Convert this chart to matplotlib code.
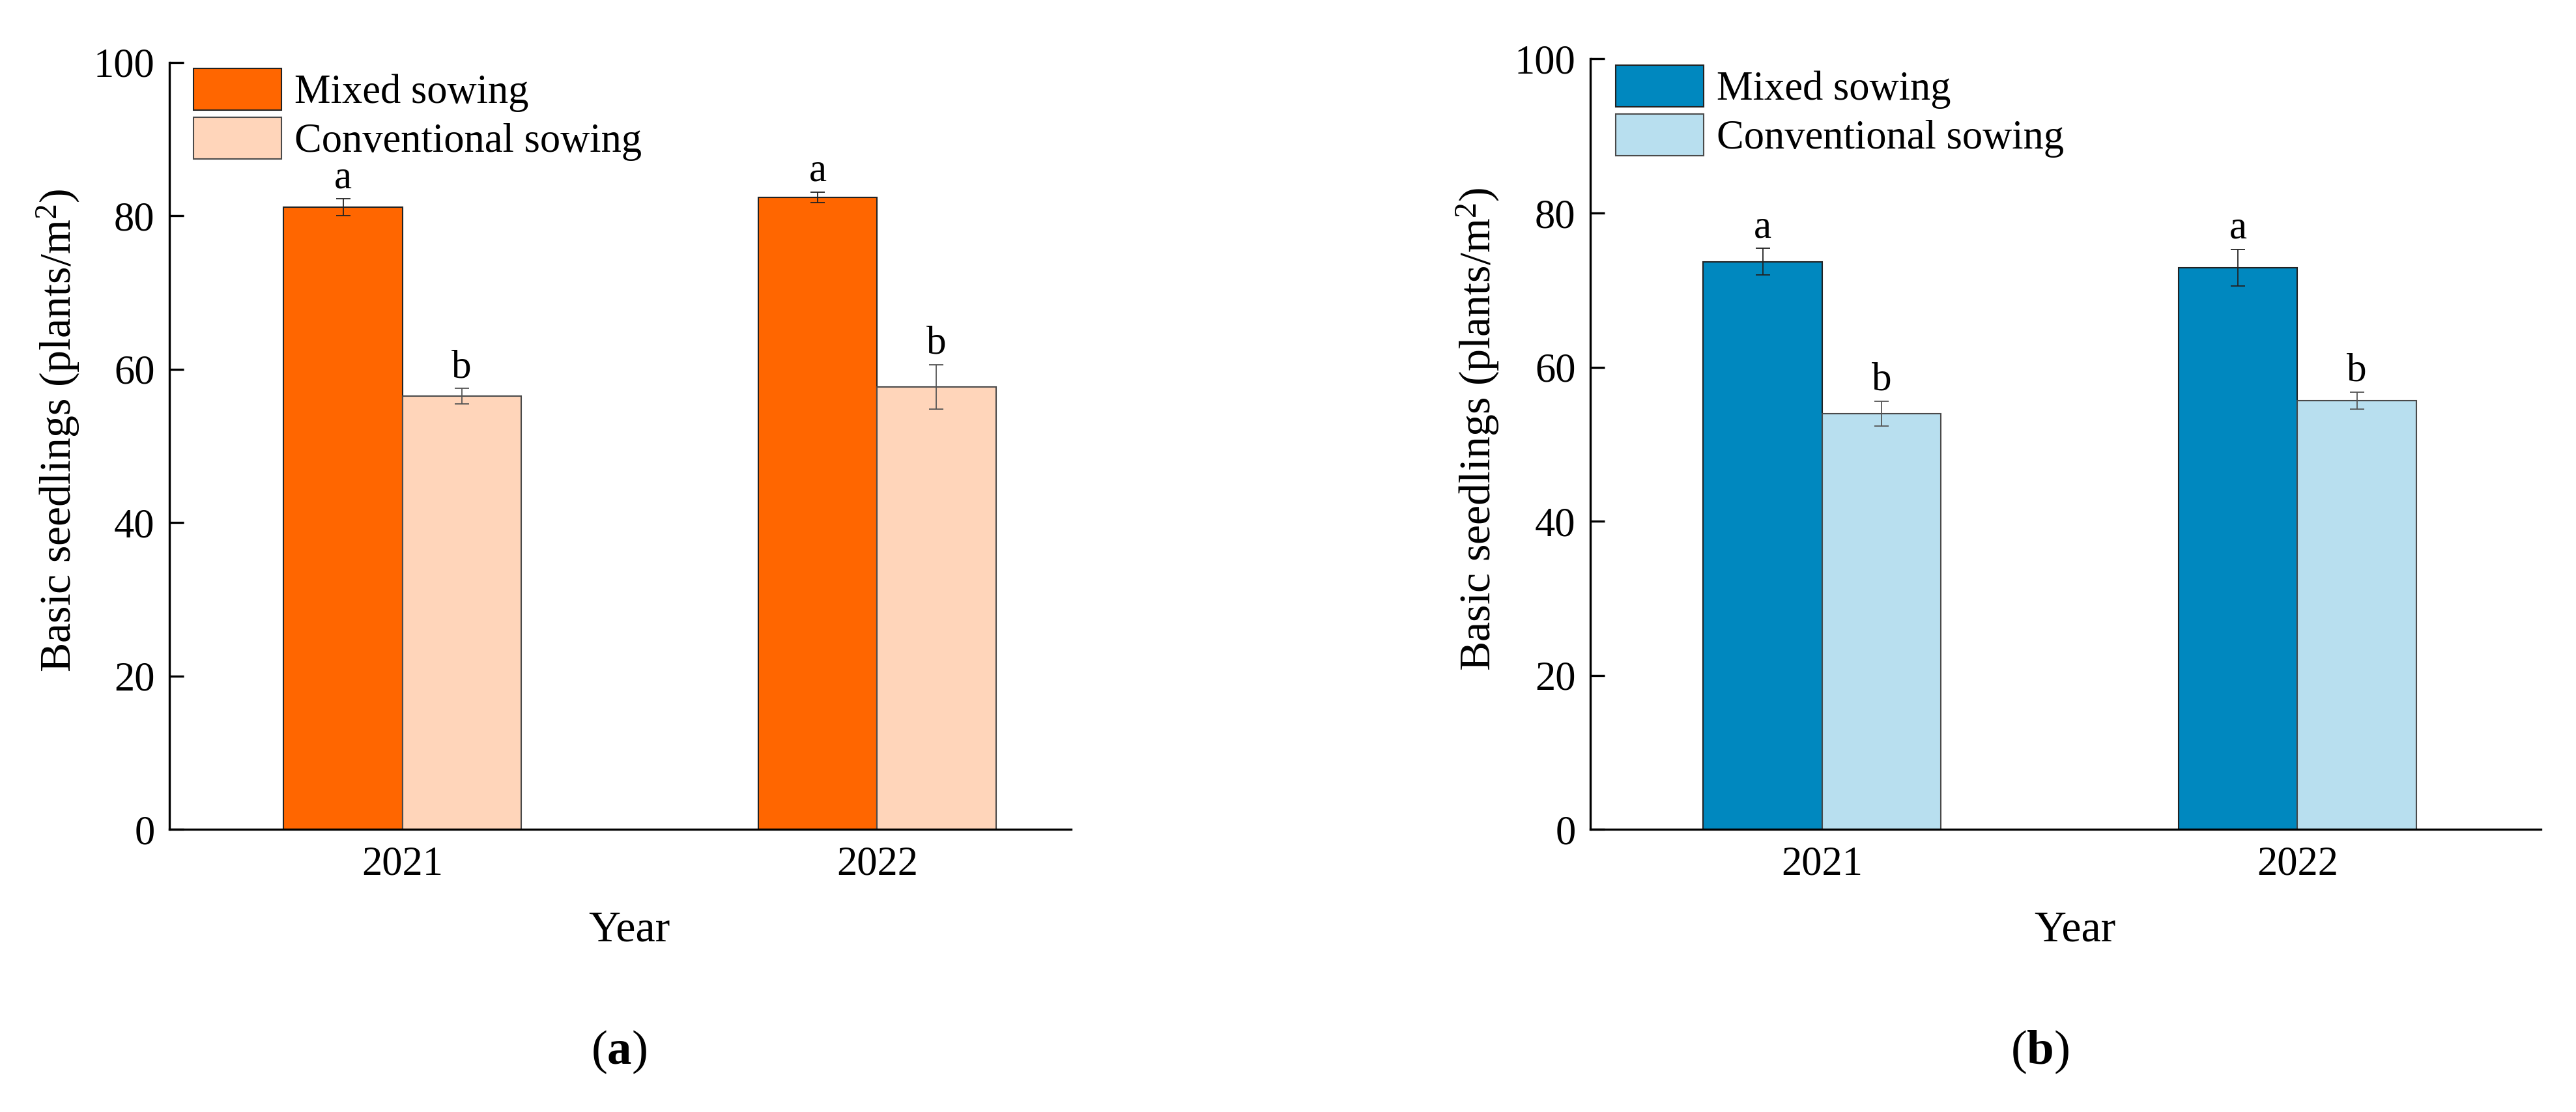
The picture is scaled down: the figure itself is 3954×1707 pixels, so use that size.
#!/usr/bin/env python3
# -*- coding: utf-8 -*-
"""
plantulas basicas - semeadura mista x convencional, 2021 e 2022
"""

import numpy as np
import matplotlib
matplotlib.use('Agg')
import matplotlib.pyplot as plt

# dados
anos = ['2021', '2022']
series = ['Mixed sowing', 'Conventional sowing']

# painel (a)
mista_a = [81.1, 82.4]
mista_a_err = [1.1, 0.7]
conv_a = [56.5, 57.7]
conv_a_err = [1.0, 2.9]
letras_mista_a = ['a', 'a']
letras_conv_a = ['b', 'b']

# painel (b)
mista_b = [73.7, 72.9]
mista_b_err = [1.7, 2.4]
conv_b = [54.0, 55.7]
conv_b_err = [1.6, 1.1]
letras_mista_b = ['a', 'a']
letras_conv_b = ['b', 'b']

y_ticks = [0, 20, 40, 60, 80, 100]

plt.rcParams['font.family'] = ['Liberation Serif', 'DejaVu Serif']
plt.rcParams['mathtext.fontset'] = 'custom'
plt.rcParams['mathtext.rm'] = 'Liberation Serif'
plt.rcParams['mathtext.it'] = 'Liberation Serif:italic'
plt.rcParams['mathtext.bf'] = 'Liberation Serif:bold'


def grafico_barras(ax, v1, e1, v2, e2, l1, l2, cores, xlim, ylabel_x):
    x = np.arange(len(anos))
    w = 0.25
    b1 = ax.bar(x - w / 2, v1, w, color=cores[0], edgecolor='#222222', linewidth=1.5,
                label=series[0], zorder=2)
    b2 = ax.bar(x + w / 2, v2, w, color=cores[1], edgecolor='#4a4a4a', linewidth=1.5,
                label=series[1], zorder=2)
    ax.errorbar(x - w / 2, v1, yerr=e1, fmt='none', ecolor='#222222', elinewidth=1.3,
                capsize=8, capthick=1.3, zorder=3)
    ax.errorbar(x + w / 2, v2, yerr=e2, fmt='none', ecolor='#555555', elinewidth=1.3,
                capsize=8, capthick=1.3, zorder=3)
    # letras de significancia
    for i in range(len(anos)):
        ax.annotate(l1[i], (x[i] - w / 2, v1[i] + e1[i]), xytext=(0, 3),
                    textcoords='offset points', ha='center', va='bottom', fontsize=44)
        ax.annotate(l2[i], (x[i] + w / 2, v2[i] + e2[i]), xytext=(0, 3),
                    textcoords='offset points', ha='center', va='bottom', fontsize=44)

    ax.set_xlim(xlim)
    ax.set_ylim(0, 100)
    ax.set_yticks(y_ticks)
    ax.set_xticks(x)
    ax.set_xticklabels(anos)
    ax.spines['right'].set_visible(False)
    ax.spines['top'].set_visible(False)
    ax.spines['left'].set_linewidth(2.4)
    ax.spines['bottom'].set_linewidth(2.4)
    ax.tick_params(axis='y', direction='in', length=16, width=2.4, pad=16, labelsize=45)
    ax.tick_params(axis='x', length=0, pad=18, labelsize=45)
    ax.set_ylabel('Basic seedlings (plants/m$^2$)', fontsize=49)
    ax.set_xlabel('Year', fontsize=49)
    ax.yaxis.set_label_coords(ylabel_x, 0.52)
    ax.xaxis.set_label_coords(0.51, -0.105)
    ax.legend(handles=[b1, b2], loc='upper left', bbox_to_anchor=(0.027, 0.992),
              frameon=False, fontsize=45, borderpad=0, borderaxespad=0,
              handlelength=2.15, handleheight=1.2, labelspacing=0.12,
              handletextpad=0.33)


def main():
    fig = plt.figure(figsize=(39.54, 17.07), dpi=100, facecolor='white')
    ax1 = fig.add_axes([0.0657, 0.254, 0.350, 0.690])
    ax2 = fig.add_axes([0.6173, 0.254, 0.369, 0.693])

    grafico_barras(ax1, mista_a, mista_a_err, conv_a, conv_a_err,
                   letras_mista_a, letras_conv_a, ['#FF6600', '#FFD5BA'],
                   (-0.491, 1.408), -0.097)
    grafico_barras(ax2, mista_b, mista_b_err, conv_b, conv_b_err,
                   letras_mista_b, letras_conv_b, ['#0088BF', '#B8DFEF'],
                   (-0.488, 1.512), -0.093)

    fig.text(0.2404, 0.054, r'($\mathbf{a}$)', ha='center', va='center', fontsize=54)
    fig.text(0.792, 0.054, r'($\mathbf{b}$)', ha='center', va='center', fontsize=54)

    plt.savefig('out.png', dpi=100)


if __name__ == '__main__':
    main()
